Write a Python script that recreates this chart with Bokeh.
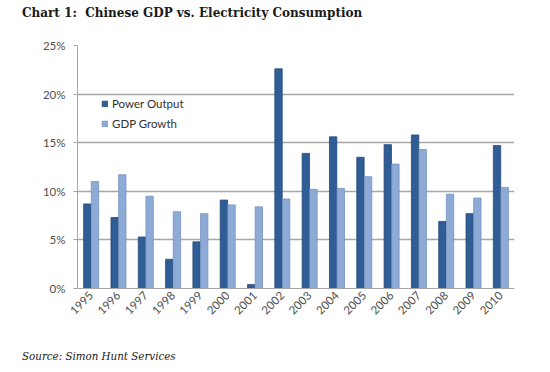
from bokeh.plotting import figure
from bokeh.models import ColumnDataSource, Div, Legend, LegendItem, PrintfTickFormatter, FixedTicker
from bokeh.layouts import column
from bokeh.transform import dodge
from bokeh.embed import file_html
from bokeh.resources import INLINE
import math

years = ["1995", "1996", "1997", "1998", "1999", "2000", "2001", "2002",
         "2003", "2004", "2005", "2006", "2007", "2008", "2009", "2010"]
power_output = [8.7, 7.3, 5.3, 3.0, 4.8, 9.1, 0.4, 22.6,
                13.9, 15.6, 13.5, 14.8, 15.8, 6.9, 7.7, 14.7]
gdp_growth = [11.0, 11.7, 9.5, 7.9, 7.7, 8.6, 8.4, 9.2,
              10.2, 10.3, 11.5, 12.8, 14.3, 9.7, 9.3, 10.4]
y_ticks = [0, 5, 10, 15, 20, 25]

src = ColumnDataSource(dict(year=years, power=power_output, gdp=gdp_growth))

W = 542
p = figure(x_range=years, y_range=(0, 25), width=W, height=310,
           output_backend="svg", toolbar_location=None,
           min_border_left=77, min_border_right=28, min_border_top=15, min_border_bottom=52)
p.background_fill_color = "white"
p.outline_line_color = None

dark = "#2f5d96"
light = "#8eaad6"
r1 = p.vbar(x=dodge("year", -0.14, range=p.x_range), top="power", width=0.27, source=src,
            fill_color=dark, line_color="#24497a", line_width=0.8)
r2 = p.vbar(x=dodge("year", 0.14, range=p.x_range), top="gdp", width=0.27, source=src,
            fill_color=light, line_color="#7592c0", line_width=0.8)

p.xgrid.grid_line_color = None
p.ygrid.grid_line_color = "#a6a6a6"
p.ygrid.grid_line_width = 1.5
p.yaxis.ticker = FixedTicker(ticks=y_ticks)
p.yaxis.formatter = PrintfTickFormatter(format="%d%%")
for ax in (p.xaxis, p.yaxis):
    ax.axis_line_color = "#a6a6a6"
    ax.major_tick_line_color = "#a6a6a6"
    ax.minor_tick_line_color = None
    ax.major_label_text_font = "Lato"
    ax.major_label_text_font_size = "11.5px"
    ax.major_label_text_color = "#505050"
p.yaxis.major_tick_in = 0
p.yaxis.major_tick_out = 4
p.yaxis.major_label_standoff = 8
p.xaxis.major_tick_in = 0
p.xaxis.major_tick_out = 0
p.xaxis.major_label_orientation = math.pi / 4

legend = Legend(items=[LegendItem(label="Power Output", renderers=[r1]),
                       LegendItem(label="GDP Growth", renderers=[r2])],
                location=(24, 155), margin=0, padding=0,
                border_line_color=None, background_fill_alpha=0,
                label_text_font="Lato", label_text_font_size="11.5px", label_text_color="#303030",
                glyph_width=7, glyph_height=7, label_height=20, label_standoff=4, spacing=0)
p.add_layout(legend, "center")

title = Div(text="<b>Chart 1:&nbsp; Chinese GDP vs. Electricity Consumption</b>",
            width=W, height=30, margin=(0, 0, 0, 22),
            styles={"font-family": "DejaVu Serif", "font-size": "12px",
                    "line-height": "26px", "color": "#1a1a1a"})
source = Div(text="<i>Source: Simon Hunt Services</i>",
             width=W, height=24, margin=(0, 0, 0, 22),
             styles={"font-family": "DejaVu Serif", "font-size": "10.3px",
                     "line-height": "32px", "color": "#1a1a1a"})

layout = column(title, p, source, spacing=0)
open("out.html", "w").write(file_html(layout, INLINE))
